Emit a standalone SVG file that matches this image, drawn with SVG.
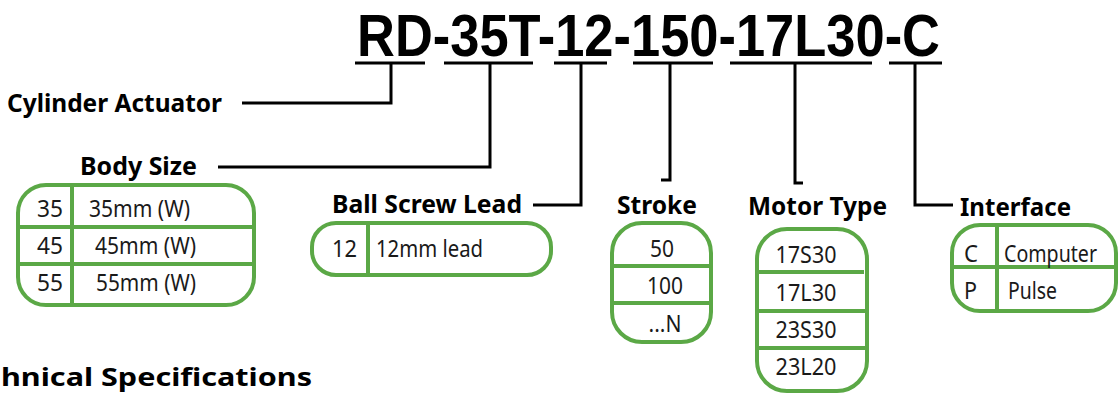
<svg xmlns="http://www.w3.org/2000/svg" width="1120" height="396" viewBox="0 0 1120 396">
<style>
.title{font-family:"Liberation Sans",Arial,sans-serif;font-weight:bold;font-size:60px;fill:#000}
.lbl{font-family:"Noto Sans","Open Sans",sans-serif;font-weight:bold;font-size:25px;fill:#000}
.cell{font-family:"Noto Sans","Open Sans",sans-serif;font-size:24px;fill:#1a1a1a}
.mid{text-anchor:middle}
.box{fill:#fff;stroke:#5BA846;stroke-width:4}
.div{stroke:#5BA846;stroke-width:4;fill:none}
.con{stroke:#000;stroke-width:3;fill:none}
</style>
<rect width="1120" height="396" fill="#fff"/>
<g id="title">
<text class="title" x="357" y="56" textLength="583" lengthAdjust="spacingAndGlyphs">RD-35T-12-150-17L30-C</text>
</g>
<g id="connectors">
<path class="con" d="M355 63H425M444 63H533M554 63H607M633 63H713M730 63H872M889 63H942" stroke-width="4"/>
<path class="con" d="M391 63V103H242"/>
<path class="con" d="M490 63V167H218"/>
<path class="con" d="M581 63V205H533"/>
<path class="con" d="M670 63V180H661"/>
<path class="con" d="M795 63V183H803"/>
<path class="con" d="M915 63V205H953"/>
</g>
<g id="cylinder-actuator">
<text class="lbl" x="7" y="112" textLength="215" lengthAdjust="spacingAndGlyphs">Cylinder Actuator</text>
</g>
<g id="body-size">
<text class="lbl" x="80" y="175" textLength="117" lengthAdjust="spacingAndGlyphs">Body Size</text>
<rect class="box" x="18" y="185" width="236" height="120" rx="28"/>
<path class="div" d="M72 185V305M18 227H254M18 264H254"/>
<text class="cell" x="37" y="217" textLength="26" lengthAdjust="spacingAndGlyphs">35</text>
<text class="cell" x="89" y="217" textLength="101" lengthAdjust="spacingAndGlyphs">35mm (W)</text>
<text class="cell" x="37" y="254" textLength="26" lengthAdjust="spacingAndGlyphs">45</text>
<text class="cell" x="95" y="254" textLength="101" lengthAdjust="spacingAndGlyphs">45mm (W)</text>
<text class="cell" x="37" y="291" textLength="26" lengthAdjust="spacingAndGlyphs">55</text>
<text class="cell" x="96" y="291" textLength="100" lengthAdjust="spacingAndGlyphs">55mm (W)</text>
</g>
<g id="ball-screw-lead">
<text class="lbl" x="332" y="213" textLength="190" lengthAdjust="spacingAndGlyphs">Ball Screw Lead</text>
<rect class="box" x="312" y="223" width="239" height="52" rx="24"/>
<path class="div" d="M368 223V275"/>
<text class="cell" x="332" y="257" textLength="25" lengthAdjust="spacingAndGlyphs">12</text>
<text class="cell" x="376" y="257" textLength="107" lengthAdjust="spacingAndGlyphs">12mm lead</text>
</g>
<g id="stroke">
<text class="lbl" x="617" y="214" textLength="80" lengthAdjust="spacingAndGlyphs">Stroke</text>
<rect class="box" x="612" y="223" width="99" height="119" rx="30"/>
<path class="div" d="M612 266H711M612 303H711"/>
<text class="cell mid" x="662" y="257" textLength="24" lengthAdjust="spacingAndGlyphs">50</text>
<text class="cell mid" x="665" y="294" textLength="36" lengthAdjust="spacingAndGlyphs">100</text>
<text class="cell mid" x="665" y="332" textLength="33" lengthAdjust="spacingAndGlyphs">...N</text>
</g>
<g id="motor-type">
<text class="lbl" x="748" y="215" textLength="139" lengthAdjust="spacingAndGlyphs">Motor Type</text>
<rect class="box" x="757" y="229" width="110" height="162" rx="30"/>
<path class="div" d="M757 272H864M757 311H867M757 348H867"/>
<text class="cell mid" x="806" y="263" textLength="61" lengthAdjust="spacingAndGlyphs">17S30</text>
<text class="cell mid" x="806" y="301" textLength="61" lengthAdjust="spacingAndGlyphs">17L30</text>
<text class="cell mid" x="806" y="338" textLength="61" lengthAdjust="spacingAndGlyphs">23S30</text>
<text class="cell mid" x="806" y="375" textLength="61" lengthAdjust="spacingAndGlyphs">23L20</text>
</g>
<g id="interface">
<text class="lbl" x="960" y="216" textLength="111" lengthAdjust="spacingAndGlyphs">Interface</text>
<rect class="box" x="952" y="225" width="164" height="86" rx="28"/>
<path class="div" d="M997 225V311M952 267H1116"/>
<text class="cell" x="964" y="262" textLength="14" lengthAdjust="spacingAndGlyphs">C</text>
<text class="cell" x="1004" y="262" textLength="93" lengthAdjust="spacingAndGlyphs">Computer</text>
<text class="cell" x="964" y="299" textLength="13" lengthAdjust="spacingAndGlyphs">P</text>
<text class="cell" x="1008" y="299" textLength="49" lengthAdjust="spacingAndGlyphs">Pulse</text>
</g>
<g id="tech-spec">
<text class="lbl" x="1" y="386" textLength="311" lengthAdjust="spacingAndGlyphs">hnical Specifications</text>
</g>
</svg>
